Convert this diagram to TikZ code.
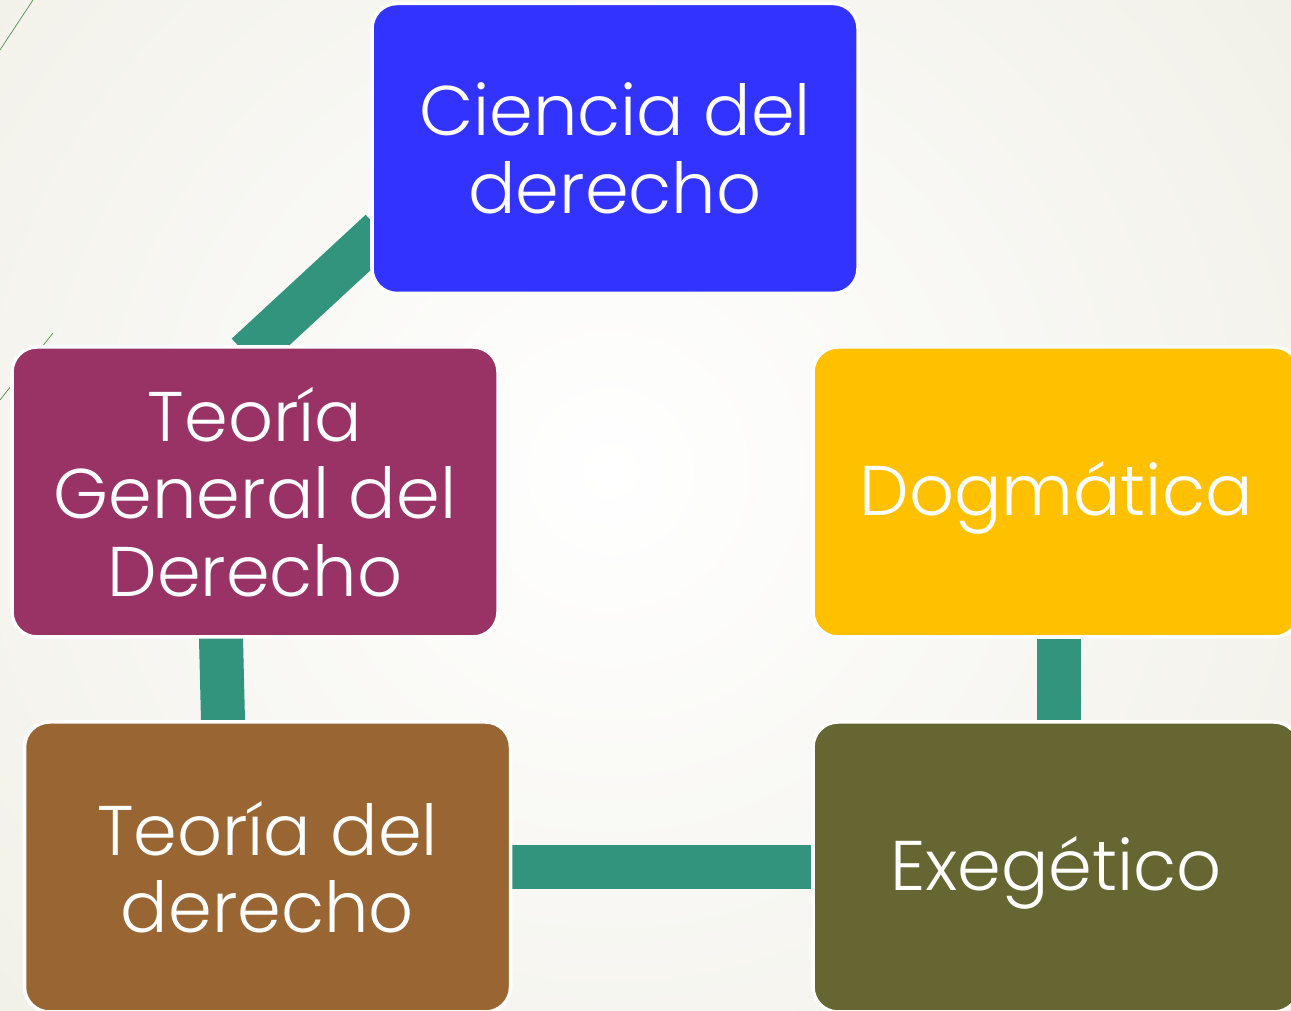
\documentclass[tikz,border=0pt]{standalone}
\usepackage{fontspec}
\setmainfont{Poppins}[UprightFont=* Light]
\usetikzlibrary{calc}
\usetikzlibrary{backgrounds}
\definecolor{bgbeige}{RGB}{230,228,214}
\definecolor{linkteal}{RGB}{51,148,126}
\definecolor{cblue}{RGB}{51,51,255}
\definecolor{cplum}{RGB}{153,51,102}
\definecolor{cgold}{RGB}{255,192,0}
\definecolor{cbrown}{RGB}{153,102,51}
\definecolor{colive}{RGB}{102,102,51}
\newcommand{\lowered}[1]{\raisebox{-0.06cm}[\height][\depth]{#1}}

\begin{document}
\begin{tikzpicture}[
 box/.style={draw=white, line width=1pt, rounded corners=0.25cm, minimum width=4.86cm, minimum height=2.9cm, text=white, align=center, font=\fontsize{20}{22}\selectfont, inner sep=0pt},
 link/.style={linkteal, line width=0.44cm}]
\useasboundingbox (0,0) rectangle (12.91,10.11);
\clip (0,0) rectangle (12.91,10.11);
\node[box, fill=cblue] (ciencia) at (6.15,8.625) {Ciencia del\\derecho};
\node[box, fill=cplum] (tgd) at (2.55,5.19) {Teoría\\General del\\Derecho};
\node[box, fill=cgold] (dog) at (10.56,5.19) {\lowered{Dogmática}};
\node[box, fill=cbrown] (tdd) at (2.675,1.44) {Teoría del\\derecho};
\node[box, fill=colive] (exe) at (10.56,1.44) {\lowered{Exegético}};
\begin{scope}[on background layer]
\fill[bgbeige] (0,0) rectangle (12.91,10.11);
\shade[inner color=white, outer color=bgbeige] (6.1,5.4) circle (15cm);
\draw[black!30!green!35!gray, very thin] (0,9.61) -- (0.33,10.11);
\draw[black!30!green!35!gray, very thin] (0,6.11) -- (0.53,6.78);
\draw[link, shorten <=-4pt, shorten >=-4pt] ([yshift=-0.92cm]ciencia.west) -- ([xshift=0.02cm]tgd.north);
\draw[link, shorten <=-4pt, shorten >=-4pt] ([xshift=-0.34cm]tgd.south) -- ([xshift=-0.445cm]tdd.north);
\draw[link] (tdd.east) -- (exe.west);
\draw[link] ([xshift=0.03cm]dog.south) -- ([xshift=0.03cm]exe.north);
\end{scope}
\end{tikzpicture}
\end{document}
